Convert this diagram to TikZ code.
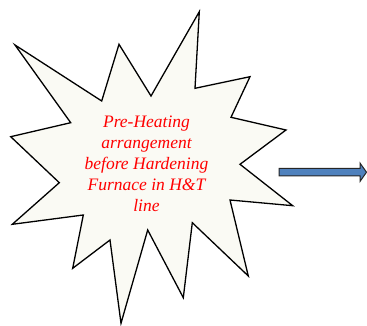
\documentclass[tikz,border=0pt]{standalone}
\usepackage{fontspec}
\setmainfont{Liberation Serif}
\usetikzlibrary{arrows.meta}
\definecolor{starfill}{RGB}{250,250,244}
\definecolor{arrowblue}{RGB}{79,129,189}
\tikzset{
  star/.style={draw=black, line width=1.3pt, fill=starfill, line join=miter},
  label/.style={text=red, font=\itshape\fontsize{17.5}{21}\selectfont, align=center},
  blockarrow/.style={draw=black!85, line width=1pt, fill=arrowblue}
}
\begin{document}
\begin{tikzpicture}[x=1pt,y=-1pt]
\useasboundingbox (0,0) rectangle (367,326);
\draw[star] (199.3,11.7) -- (195,88.3) -- (250,76.7) -- (231,117.3) -- (286,130)
  -- (240,164.3) -- (292.7,205.7) -- (230,200) -- (248.3,276) -- (192.3,222.7)
  -- (183.3,297.7) -- (147.7,230) -- (121,323.3) -- (110,240) -- (72.7,268.3)
  -- (83.3,215) -- (12.3,224.3) -- (59.3,182.7) -- (10.7,136.7) -- (70.7,122.7)
  -- (15,45) -- (101.7,101) -- (119,44.3) -- (151,96) -- cycle;
\node[label] (txt) at (146.5,163.5) {Pre-Heating\\arrangement\\before Hardening\\Furnace in H\&T\\line};
\draw[blockarrow] (279,168.5) -- (360,168.5) -- (360,163) -- (366.5,172.2) -- (360,181.5) -- (360,176) -- (279,176) -- cycle;
\end{tikzpicture}
\end{document}
